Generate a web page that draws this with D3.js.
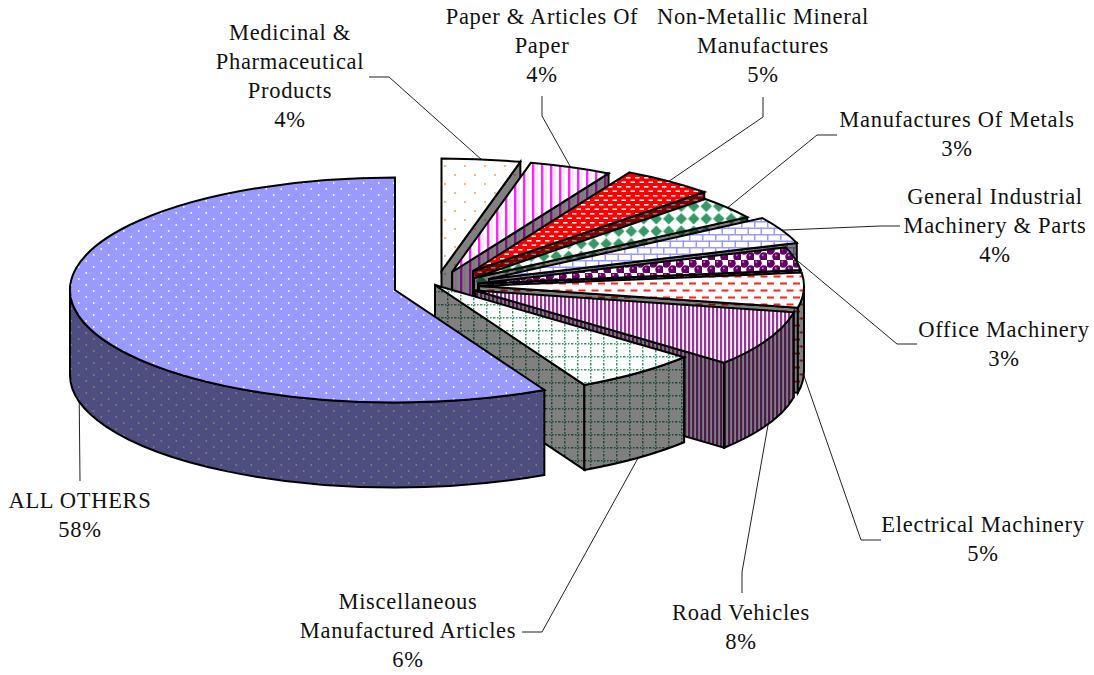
<!DOCTYPE html>
<meta charset="utf-8">
<head>
<style>
body { margin: 0; background: #fff; }
text { font-family: "Liberation Serif", serif; font-size: 22.5px; letter-spacing: .7px; fill: #111; text-anchor: middle; }
.leader { fill: none; stroke: #222; stroke-width: 1; }
.face { stroke: #000; stroke-width: 2; stroke-linejoin: miter; }
</style>
</head>
<body>
<script src="https://d3js.org/d3.v7.min.js"></script>
<script>
//Chart data
var categories = [
    "Medicinal &\nPharmaceutical\nProducts",
    "Paper & Articles Of\nPaper",
    "Non-Metallic Mineral\nManufactures",
    "Manufactures Of Metals",
    "General Industrial\nMachinery & Parts",
    "Office Machinery",
    "Electrical Machinery",
    "Road Vehicles",
    "Miscellaneous\nManufactured Articles",
    "ALL OTHERS"
];
var shares = [3.9, 4.1, 4.6, 3.3, 3.9, 3.3, 5, 8, 6.3, 57.6];

//Layout: pie centre and how far each wedge is pulled out
var cx = 395, cy = 290, rx = 325, ry = 112.5, depth = 85;
var offsetX = [46.5, 57, 78, 79, 94, 83, 84, 80, 40, 0];
var offsetY = [-19, -18, -19, -12, -11, -6.5, -4, 0.5, -5, 0];

//Label centre, first line, and the elbow of each leader line
var labelX = [290, 542, 763, 957, 995, 1004, 983, 741, 408, 80];
var labelY = [33, 17, 17, 120, 197, 330, 525, 613, 602, 501];
var leaderFrom = [[369, 77], [542, 96], [763, 97], [837, 135], [900, 226], [917, 344], [881, 540], [742, 593], [522, 632], [80, 481]];
var leaderElbow = [[389, 77], [542, 116], [763, 117], [817, 135], [880, 226], [897, 344], [861, 540], [742, 572], [542, 632], null];

var patternNames = ["sparse", "stripes", "confetti", "diamonds", "bricks", "spheres", "dashes", "fine", "grid", "dots"];

var width = 1094, height = 675;
var svg = d3.select("body").append("svg")
    .attr("width", width)
    .attr("height", height)
    .style("display", "block");
var defs = svg.append("defs");

//Side walls are the same pattern at half brightness
function shade(c, dark) {
    if (!dark) return c;
    var r = d3.rgb(c);
    return d3.rgb(r.r * .5, r.g * .5, r.b * .5).formatHex();
}

function addPattern(name, w, h, bg, draw) {
    [false, true].forEach(function(dark) {
        var p = defs.append("pattern")
            .attr("id", name + (dark ? "-wall" : "-top"))
            .attr("patternUnits", "userSpaceOnUse")
            .attr("width", w)
            .attr("height", h);
        p.append("rect").attr("width", w).attr("height", h).attr("fill", shade(bg, dark));
        draw(p, function(c) { return shade(c, dark); });
    });
}

function dot(p, x, y, r, c) {
    p.append("circle").attr("cx", x).attr("cy", y).attr("r", r).attr("fill", c);
}
function box(p, x, y, w, h, c) {
    p.append("rect").attr("x", x).attr("y", y).attr("width", w).attr("height", h).attr("fill", c);
}

addPattern("sparse", 20, 18, "#ffffff", function(p, c) {
    dot(p, 5, 4, 1, c("#ff9a55"));
    dot(p, 15, 13, 1, c("#ff9a55"));
});
addPattern("stripes", 9, 9, "#ffffff", function(p, c) {
    box(p, 1, 0, 2.4, 9, c("#ff22ff"));
    box(p, 5.5, 0, 1, 9, c("#ffd0ff"));
});
addPattern("confetti", 9, 9, "#ff0000", function(p, c) {
    box(p, .5, 1.5, 4.5, 1.5, c("#ffffff"));
    box(p, 5, 6, 4, 1.5, c("#ffffff"));
    box(p, 0, 6, .5, 1.5, c("#ffffff"));
});
addPattern("diamonds", 12.5, 12.5, "#ffffff", function(p, c) {
    p.append("path").attr("d", "M6.25 .5L12 6.25L6.25 12L.5 6.25Z").attr("fill", c("#339966"));
});
addPattern("bricks", 26, 13, "#ffffff", function(p, c) {
    var b = c("#9999ff");
    box(p, 0, 0, 26, 1.5, b);
    box(p, 0, 6.5, 26, 1.5, b);
    box(p, 0, 0, 1.5, 6.5, b);
    box(p, 13, 0, 1.5, 6.5, b);
    box(p, 6.5, 6.5, 1.5, 6.5, b);
    box(p, 19.5, 6.5, 1.5, 6.5, b);
});
addPattern("spheres", 13, 13, "#ffffff", function(p, c) {
    [[3.25, 3.25], [9.75, 9.75]].forEach(function(q) {
        dot(p, q[0], q[1], 4.5, c("#660066"));
        dot(p, q[0] - 1, q[1] - 1.6, 1, c("#c080c0"));
    });
});
addPattern("dashes", 13, 14, "#ffffff", function(p, c) {
    box(p, 0, 2.5, 7, 2, c("#ff2020"));
    box(p, 6.5, 9.5, 6.5, 2, c("#ff2020"));
    box(p, 0, 9.5, .5, 2, c("#ff2020"));
});
addPattern("fine", 4, 4, "#ffffff", function(p, c) {
    box(p, 0, 0, 2.2, 4, c("#993399"));
});
addPattern("grid", 13, 13, "#ffffff", function(p, c) {
    for (var i = 0; i < 13; i += 3) {
        box(p, i, 5, 1.5, 1.5, c("#339966"));
        box(p, 5, i, 1.5, 1.5, c("#339966"));
    }
});
addPattern("dots", 15, 12, "#9999ff", function(p, c) {
    dot(p, 3.75, 3, .9, c("#ffffff"));
    dot(p, 11.25, 9, .9, c("#ffffff"));
});

//Angles clockwise from 12 o'clock, in picture order
var pie = d3.pie().sort(null).startAngle(0).endAngle(2 * Math.PI);
var slices = pie(shares);
var total = d3.sum(shares);
var pct = d3.format(".0%");

var x = d3.scaleLinear().domain([-1, 1]).range([cx - rx, cx + rx]);
var y = d3.scaleLinear().domain([-1, 1]).range([cy - ry, cy + ry]);

function rim(i, a, z) {
    return [x(Math.sin(a)) + offsetX[i], y(-Math.cos(a)) + offsetY[i] + (z || 0)];
}
function apex(i, z) {
    return [x(0) + offsetX[i], y(0) + offsetY[i] + (z || 0)];
}
function arcTo(p, a0, a1) {
    return "A" + rx + " " + ry + " 0 " + (Math.abs(a1 - a0) > Math.PI ? 1 : 0) + " " + (a1 > a0 ? 1 : 0) + " " + p;
}

//Leader lines go first, the wedges hide their ends
slices.forEach(function(d, i) {
    var mid = (d.startAngle + d.endAngle) / 2;
    var facing = Math.cos(mid) < 0;
    var pts = [leaderFrom[i]];
    if (leaderElbow[i]) pts.push(leaderElbow[i]);
    pts.push(rim(i, mid, facing ? depth : 0));
    svg.append("path").attr("class", "leader").attr("d", d3.line()(pts));
});

//Painted back to front: each wedge covers the wall of the one before it
var wedge = svg.selectAll("g.wedge")
    .data(slices)
    .enter().append("g")
    .attr("class", "wedge");

wedge.each(function(d, i) {
    var g = d3.select(this);
    var a0 = d.startAngle, a1 = d.endAngle;
    var wall = "url(#" + patternNames[i] + "-wall)";
    var top = "url(#" + patternNames[i] + "-top)";

    //Cut face at the clockwise end
    if (a1 < Math.PI) {
        g.append("path")
            .attr("class", "face")
            .attr("fill", wall)
            .attr("d", "M" + apex(i) + "L" + rim(i, a1) + "L" + rim(i, a1, depth) + "L" + apex(i, depth) + "Z");
    }

    //Outer wall, only the part that faces the viewer
    var w0 = Math.max(a0, Math.PI / 2), w1 = Math.min(a1, 3 * Math.PI / 2);
    if (w1 > w0) {
        g.append("path")
            .attr("class", "face")
            .attr("fill", wall)
            .attr("d", "M" + rim(i, w0) + "L" + rim(i, w0, depth) + arcTo(rim(i, w1, depth), w0, w1)
                + "L" + rim(i, w1) + arcTo(rim(i, w0), w1, w0) + "Z");
    }

    g.append("path")
        .attr("class", "face")
        .attr("fill", top)
        .attr("d", "M" + apex(i) + "L" + rim(i, a0) + arcTo(rim(i, a1), a0, a1) + "Z");
});

//Labels: name lines, then the percentage
categories.forEach(function(name, i) {
    var lines = name.split("\n").concat(pct(shares[i] / total));
    var t = svg.append("text");
    lines.forEach(function(line, j) {
        t.append("tspan")
            .attr("x", labelX[i])
            .attr("y", labelY[i] + 7 + j * 29)
            .text(line);
    });
});
</script>
</body>
